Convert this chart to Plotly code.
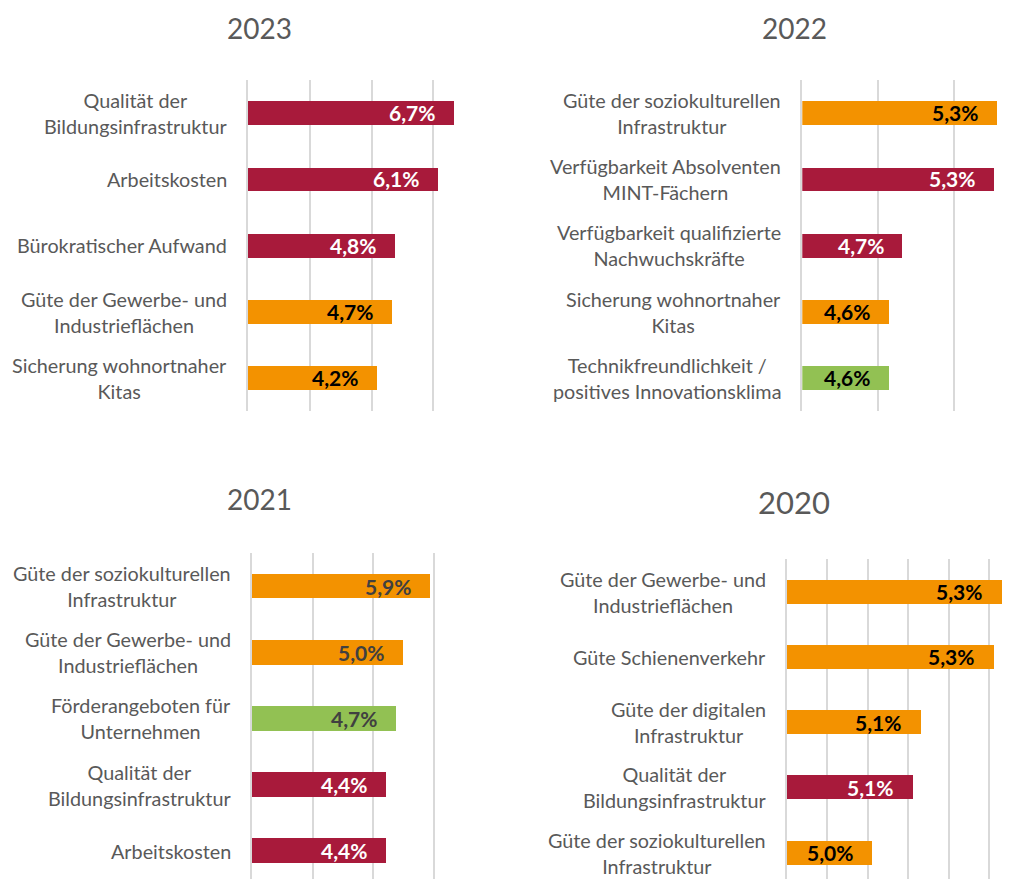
import plotly.graph_objects as go

# ---------------- data ----------------
cats_2023 = ["Qualität der<br>Bildungsinfrastruktur", "Arbeitskosten", "Bürokratischer Aufwand",
             "Güte der Gewerbe- und<br>Industrieflächen", "Sicherung wohnortnaher<br>Kitas"]
vals_2023 = [6.67, 6.14, 4.76, 4.66, 4.17]
grp_2023 = ["g1", "g1", "g1", "g2", "g2"]

cats_2022 = ["Güte der soziokulturellen<br>Infrastruktur", "Verfügbarkeit Absolventen<br>MINT-Fächern",
             "Verfügbarkeit qualifizierte<br>Nachwuchskräfte", "Sicherung wohnortnaher<br>Kitas",
             "Technikfreundlichkeit /<br>positives Innovationsklima"]
vals_2022 = [5.28, 5.26, 4.66, 4.57, 4.57]
grp_2022 = ["g2", "g1", "g1", "g2", "g3"]

cats_2021 = ["Güte der soziokulturellen<br>Infrastruktur", "Güte der Gewerbe- und<br>Industrieflächen",
             "Förderangeboten für<br>Unternehmen", "Qualität der<br>Bildungsinfrastruktur", "Arbeitskosten"]
vals_2021 = [5.86, 4.96, 4.74, 4.41, 4.41]
grp_2021 = ["g2", "g2", "g3", "g1", "g1"]

cats_2020 = ["Güte der Gewerbe- und<br>Industrieflächen", "Güte Schienenverkehr",
             "Güte der digitalen<br>Infrastruktur", "Qualität der<br>Bildungsinfrastruktur",
             "Güte der soziokulturellen<br>Infrastruktur"]
vals_2020 = [5.33, 5.31, 5.13, 5.11, 5.01]
grp_2020 = ["g2", "g2", "g2", "g1", "g2"]

titles = ["2023", "2022", "2021", "2020"]

# ---------------- style ----------------
W, H = 1019, 879
FONT = "Lato"
GRAY = "#595959"
GRID = "#D9D9D9"
COLORS = {"g1": "#A81A3B", "g2": "#F39200", "g3": "#92C153"}

panels = [
    dict(title=titles[0], cats=cats_2023, vals=vals_2023, grp=grp_2023,
         xd=(248, 495), yd=(79.5, 411), xr=(0, 8), dtick=2, yr=(4.5, -0.5), bw=0.36,
         txy=(259.6, 28), tsize=28, dark="#000000"),
    dict(title=titles[1], cats=cats_2022, vals=vals_2022, grp=grp_2022,
         xd=(802.3, W), yd=(79.5, 411), xr=(4.0, 4.0 + (W - 802.3) / 152.0), dtick=0.5, yr=(4.5, -0.5), bw=0.36,
         txy=(794.7, 28), tsize=28, dark="#000000"),
    dict(title=titles[2], cats=cats_2021, vals=vals_2021, grp=grp_2021,
         xd=(251.7, 495), yd=(553, H), xr=(0, 8), dtick=2, yr=(-0.5 + (H - 553) / 66.15, -0.5), bw=0.373,
         txy=(259.6, 499), tsize=28, dark="#404040"),
    dict(title=titles[3], cats=cats_2020, vals=vals_2020, grp=grp_2020,
         xd=(786.7, W), yd=(559, H), xr=(4.8, 4.8 + (W - 786.7) / 405.2), dtick=0.1, yr=(-0.5 + (H - 559) / 65.25, -0.5), bw=0.368,
         txy=(793.8, 502.5), tsize=31, dark="#000000"),
]

fig = go.Figure()
annotations = []
layout_axes = {}

for i, p in enumerate(panels):
    n = "" if i == 0 else str(i + 1)
    xa, ya = "x" + n, "y" + n
    fig.add_trace(go.Bar(
        x=p["vals"], y=p["cats"], orientation="h",
        marker=dict(color=[COLORS[g] for g in p["grp"]], line=dict(width=0)),
        width=p["bw"], xaxis=xa, yaxis=ya, hoverinfo="skip", showlegend=False,
    ))
    layout_axes["xaxis" + n] = dict(
        domain=[p["xd"][0] / W, p["xd"][1] / W], range=list(p["xr"]), anchor=ya,
        showgrid=True, gridcolor=GRID, gridwidth=1.5, zeroline=False,
        tick0=p["xr"][0], dtick=p["dtick"], showticklabels=False, ticks="",
        showline=False, fixedrange=True,
    )
    layout_axes["yaxis" + n] = dict(
        domain=[1 - p["yd"][1] / H, 1 - p["yd"][0] / H], range=list(p["yr"]), anchor=xa,
        type="category", showgrid=False, zeroline=False, showticklabels=False, ticks="",
        showline=True, linecolor=GRID, linewidth=1.5, fixedrange=True,
    )
    # category labels
    for c in p["cats"]:
        annotations.append(dict(
            x=0, xref=xa + " domain", y=c, yref=ya, xanchor="right", yanchor="middle",
            xshift=-19, text=c, align="center", showarrow=False,
            font=dict(family=FONT, size=19.8, color=GRAY),
        ))
    # value labels
    for c, v, g in zip(p["cats"], p["vals"], p["grp"]):
        col = "#FFFFFF" if g == "g1" else p["dark"]
        annotations.append(dict(
            x=v, xref=xa, y=c, yref=ya, xanchor="right", yanchor="middle",
            xshift=-17, text=f"{v:.1f}%".replace(".", ","), showarrow=False,
            font=dict(family=FONT, size=21, color=col, weight="bold"),
        ))
    # panel title
    annotations.append(dict(
        x=p["txy"][0] / W, y=1 - p["txy"][1] / H, xref="paper", yref="paper",
        xanchor="center", yanchor="middle", text=p["title"], showarrow=False,
        font=dict(family=FONT, size=p["tsize"], color=GRAY),
    ))

fig.update_layout(
    width=W, height=H, margin=dict(l=0, r=0, t=0, b=0),
    paper_bgcolor="#FFFFFF", plot_bgcolor="#FFFFFF",
    annotations=annotations, bargap=0, **layout_axes,
)

fig.write_html("out.html", config={"displayModeBar": False},
               post_script="document.body.style.margin='0';document.body.style.overflow='hidden';")
